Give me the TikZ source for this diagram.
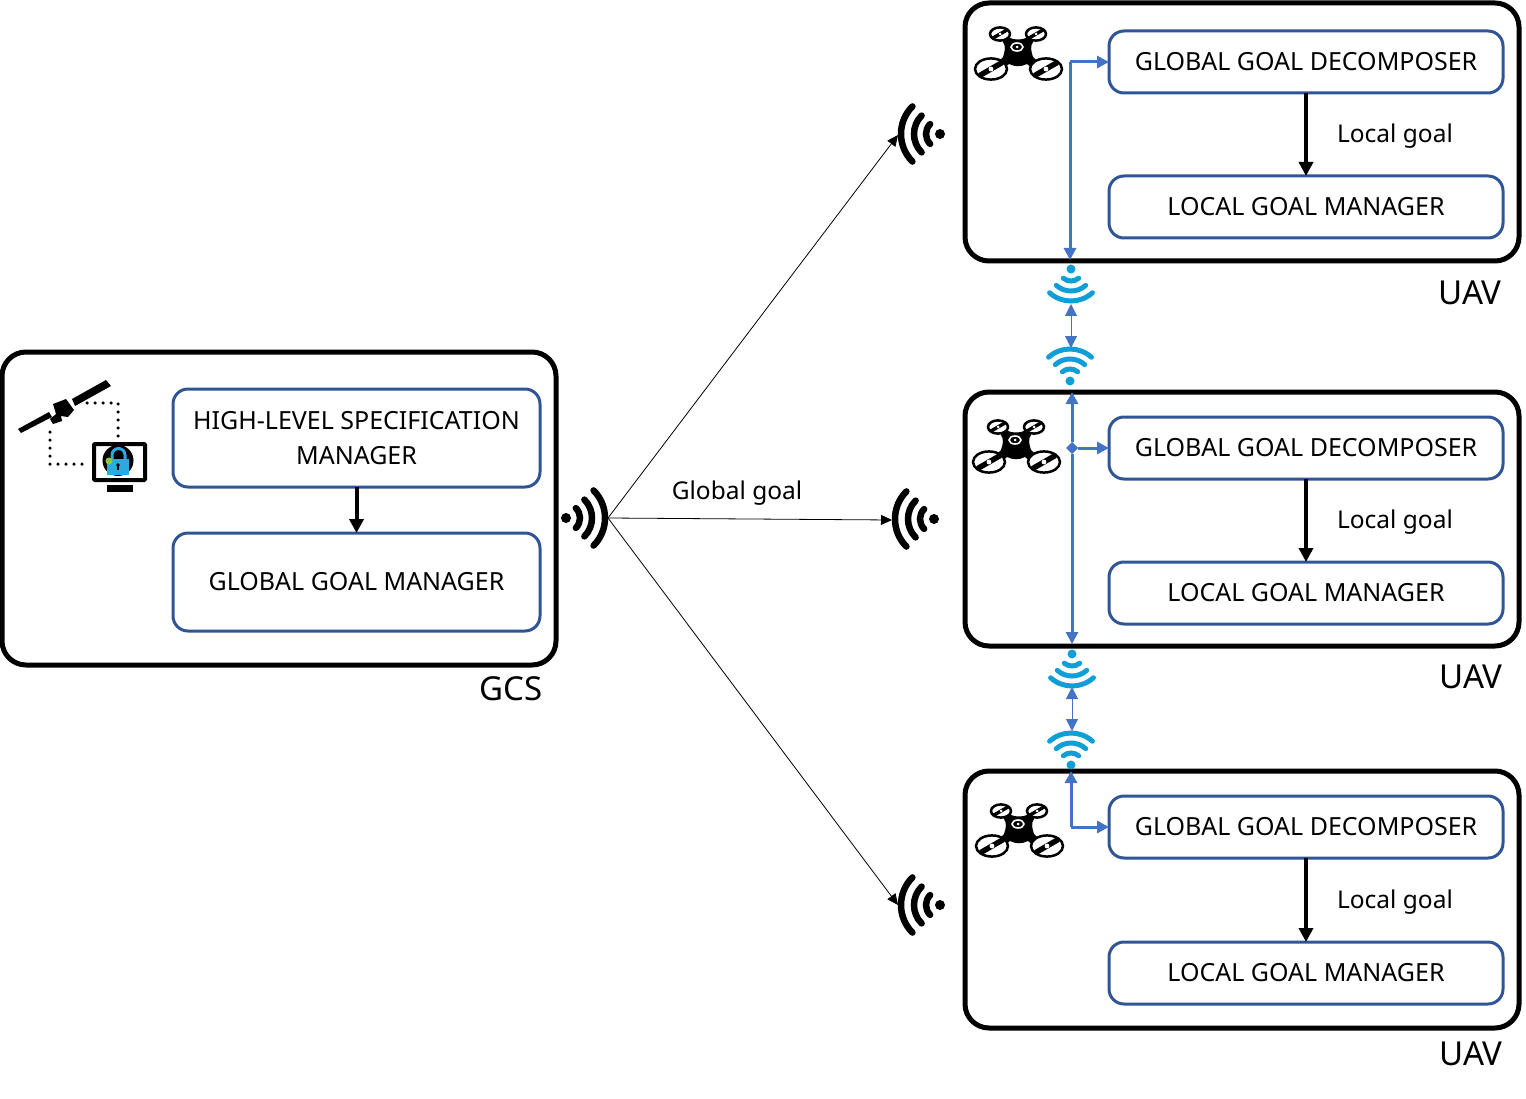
\documentclass[tikz,border=0pt]{standalone}
\usepackage{fontspec}
\setmainfont{Noto Sans}
\usetikzlibrary{positioning,arrows.meta,shapes.geometric}
\definecolor{boxblue}{HTML}{2F5597}
\definecolor{linkblue}{HTML}{4472C4}
\definecolor{wifiblue}{HTML}{0F9ED5}
\definecolor{lockblue}{HTML}{29ABE2}
\definecolor{lockgreen}{HTML}{8DC63F}
\tikzset{
  outerbox/.style={draw=black,line width=5pt,rounded corners=24pt,inner sep=0pt,outer sep=0pt},
  blockbox/.style={draw=boxblue,line width=3pt,rounded corners=15pt,fill=white,align=center,inner sep=0pt,outer sep=0pt,
    minimum width=394pt,minimum height=62pt,font=\fontsize{25}{35}\selectfont},
  gcsbox/.style={blockbox,minimum width=367pt,minimum height=98pt},
  lbl/.style={inner sep=0pt,font=\fontsize{24.5}{32}\selectfont},
  tag/.style={inner sep=0pt,font=\fontsize{33}{40}\selectfont},
  flow/.style={-{Stealth[length=14pt,width=14pt,inset=0pt]},line width=4pt},
  radio/.style={-{Stealth[length=11pt,width=10pt,inset=0pt]},line width=0.8pt},
  link/.style={-{Stealth[length=12pt,width=12pt,inset=0pt]},draw=linkblue,fill=linkblue,line width=3pt},
  duplex/.style={{Stealth[length=12pt,width=12pt,inset=0pt]}-{Stealth[length=12pt,width=12pt,inset=0pt]},draw=linkblue,fill=linkblue,line width=1pt},
  joindot/.style={diamond,fill=linkblue,inner sep=0pt,minimum size=12pt,outer sep=0pt},
  dots/.style={line width=3.5pt,line cap=round,dash pattern=on 0pt off 8pt},
  pics/blackwaves/.style={code={
    \fill (0,0) circle[radius=5pt];
    \draw[line width=6.5pt,line cap=round] (-45:14pt) arc[start angle=-45,end angle=45,radius=14pt];
    \draw[line width=6.5pt,line cap=round] (-45:26pt) arc[start angle=-45,end angle=45,radius=26pt];
    \draw[line width=6.5pt,line cap=round] (-45:39pt) arc[start angle=-45,end angle=45,radius=39pt];
  }},
  pics/bluewaves/.style={code={
    \fill[wifiblue] (0,0) circle[radius=4.5pt];
    \draw[wifiblue,line width=5pt,line cap=round] (-40:12pt) arc[start angle=-40,end angle=40,radius=12pt];
    \draw[wifiblue,line width=5pt,line cap=round] (-42:22pt) arc[start angle=-42,end angle=42,radius=22pt];
    \draw[wifiblue,line width=5pt,line cap=round] (-42:32pt) arc[start angle=-42,end angle=42,radius=32pt];
  }},
  pics/rotor/.style={code={
    \draw[line width=2.5pt,fill=white] (0,0) circle[x radius=#1,y radius=0.66*#1];
    \fill[rotate=30] (-0.82*#1,-0.17*#1) rectangle (0.82*#1,0.17*#1);
    \fill[white] (0,0) circle[radius=0.15*#1];
  }},
  pics/drone/.style={code={
    \fill (-15,-18) -- (-8,-16) .. controls (-4,-14) and (4,-14) .. (8,-16) -- (15,-18) -- (15,-12)
      .. controls (12,-8) and (13,-3) .. (15,3) -- (22,10) -- (15,15) -- (9,10)
      .. controls (3,13) and (-3,13) .. (-9,10) -- (-15,15) -- (-22,10) -- (-15,3)
      .. controls (-13,-3) and (-12,-8) .. (-15,-12) -- cycle;
    \draw[white,line width=1.6pt] (-1,-7) circle[x radius=6,y radius=4];
    \fill[white] (-1,-7) circle[radius=1.5];
    \pic at (-18,-20) {rotor=10};
    \pic at (18,-20) {rotor=10};
    \pic at (-27,15) {rotor=16};
    \pic at (28,15) {rotor=16};
  }}
}
\begin{document}
\begin{tikzpicture}[x=1pt,y=-1pt]
  \useasboundingbox (0,0) rectangle (1526,1099);

  %gcs
  \draw[outerbox] (2,352) rectangle (556,665);
  \node[gcsbox] (hlsm) at (356.5,438) {HIGH-LEVEL SPECIFICATION\\MANAGER};
  \node[gcsbox,below=46pt of hlsm] (ggm) {GLOBAL GOAL MANAGER};
  \draw[flow] (hlsm) -- (ggm);
  \node[tag] (gcstag) at (511,689) {GCS};

  %satellite and monitor
  \fill (18,429) -- (49,412) -- (52,417) -- (21,433) -- cycle;
  \fill (72,399) -- (106,380) -- (111,386) -- (75,406) -- cycle;
  \fill (53,404) -- (66,399) -- (74,410) -- (68,417) -- (61,416) -- (62,421) -- (53,424) -- (50,419) -- (56,414) -- cycle;
  \coordinate (sata) at (87,403);
  \coordinate (satb) at (50,432);
  \draw[outerbox,rounded corners=1pt,line width=4pt,fill=white] (94,444) rectangle (145,480);
  \node[circle,fill=black,inner sep=0pt,minimum size=31pt] (lockdisc) at (118,460.5) {};
  \draw[lockblue,line width=3pt] (112,460) -- (112,455) arc[start angle=180,end angle=0,radius=6.5pt] -- (125,460);
  \fill[lockblue] (107,459) rectangle (129,475);
  \fill[lockgreen] (109,461) circle[radius=3.5pt];
  \fill (118,465) circle[radius=1.8pt];
  \fill (117.2,465) rectangle (118.8,470);
  \fill (107,485) rectangle (133,492);
  \coordinate (mona) at (118,436);
  \coordinate (monb) at (82,464);
  \draw[dots] (sata) -| (mona);
  \draw[dots] (satb) |- (monb);

  %top uav
  \draw[outerbox] (965,3) rectangle (1519,261);
  \node[blockbox] (ggdA) at (1306,62) {GLOBAL GOAL DECOMPOSER};
  \node[blockbox,below=83pt of ggdA] (lgmA) {LOCAL GOAL MANAGER};
  \draw[flow] (ggdA) -- node[lbl,right=29pt,yshift=-2pt,pos=0.5] (localA) {Local goal} (lgmA);
  \node[tag] (tagA) at (1470,293) {UAV};
  \pic at (1018,54) {drone};

  %middle uav
  \draw[outerbox] (965,392) rectangle (1519,646);
  \node[blockbox] (ggdB) at (1306,448) {GLOBAL GOAL DECOMPOSER};
  \node[blockbox,below=83pt of ggdB] (lgmB) {LOCAL GOAL MANAGER};
  \draw[flow] (ggdB) -- node[lbl,right=29pt,yshift=-2pt,pos=0.5] (localB) {Local goal} (lgmB);
  \node[tag] (tagB) at (1471,677) {UAV};
  \pic at (1016,447) {drone};

  %bottom uav
  \draw[outerbox] (965,771) rectangle (1519,1028);
  \node[blockbox] (ggdC) at (1306,827) {GLOBAL GOAL DECOMPOSER};
  \node[blockbox,below=84pt of ggdC] (lgmC) {LOCAL GOAL MANAGER};
  \draw[flow] (ggdC) -- node[lbl,right=29pt,yshift=-2pt,pos=0.5] (localC) {Local goal} (lgmC);
  \node[tag] (tagC) at (1471,1054) {UAV};
  \pic at (1019,831) {drone};

  %radio links
  \pic at (566,518) {blackwaves};
  \pic[rotate=180] at (940,134) {blackwaves};
  \pic[rotate=180] at (934,519) {blackwaves};
  \pic[rotate=180] at (940,905) {blackwaves};
  \coordinate (tx) at (608,518);
  \coordinate (rxA) at (898,135);
  \coordinate (rxB) at (892,520);
  \coordinate (rxC) at (898,905);
  \draw[radio] (tx) -- (rxA);
  \draw[radio] (tx) -- node[lbl,midway,above=13pt,xshift=-13pt] (global) {Global goal} (rxB);
  \draw[radio] (tx) -- (rxC);

  %wifi
  \pic[rotate=-90] at (1071,269) {bluewaves};
  \pic[rotate=90] at (1070,381) {bluewaves};
  \pic[rotate=-90] at (1072,654) {bluewaves};
  \pic[rotate=90] at (1071,765) {bluewaves};

  %top uav links
  \coordinate (cornerA) at (1070,62);
  \coordinate (downA) at (1070,260);
  \draw[link] (cornerA) -- (ggdA.west);
  \draw[link] (cornerA) -- (downA);

  %a>b
  \coordinate (upA) at (1071,304);
  \coordinate (upB) at (1071,348);
  \draw[duplex] (upA) -- (upB);

  %middle uav links
  \coordinate (topB) at (1072,392);
  \coordinate (botB) at (1072,644);
  \node[joindot] (joinB) at (1072,448) {};
  \draw[link] (joinB) -- (ggdB.west);
  \draw[link] (joinB) -- (topB);
  \draw[link] (joinB) -- (botB);

  %b>c
  \coordinate (upC) at (1072,687);
  \coordinate (upD) at (1072,731);
  \draw[duplex] (upC) -- (upD);

  %bottom uav links
  \coordinate (cornerC) at (1071,827);
  \coordinate (topC) at (1071,771);
  \draw[link] (cornerC) -- (ggdC.west);
  \draw[link] (cornerC) -- (topC);
\end{tikzpicture}
\end{document}
